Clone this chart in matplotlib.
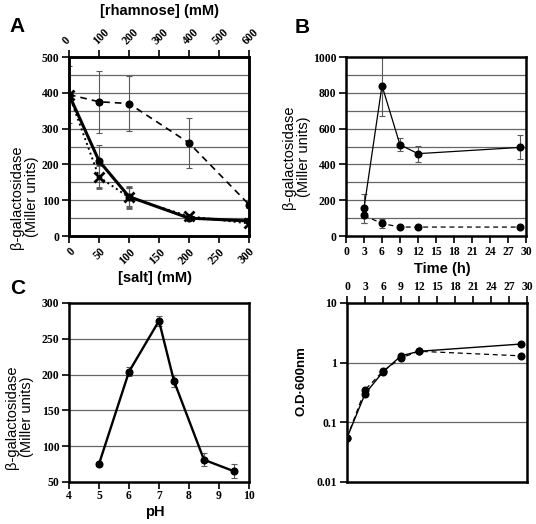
import numpy as np
import matplotlib
matplotlib.use('Agg')
import matplotlib.pyplot as plt

# panel A: salt series (bottom axis) and rhamnose series (top axis)
salt = [0, 50, 100, 200, 300]
salt_solid = [395, 210, 110, 50, 42]
salt_solid_err = [0, 45, 25, 5, 5]
salt_dotted = [395, 165, 108, 55, 35]
salt_dotted_err = [0, 32, 30, 5, 5]
rham = [0, 100, 200, 400, 600]
rham_vals = [395, 375, 370, 260, 88]
rham_err = [80, 87, 77, 69, 10]

# panel B: beta-galactosidase over time
time_b = [3, 6, 9, 12, 29]
b_solid = [155, 840, 510, 460, 495]
b_solid_err = [80, 170, 35, 45, 67]
b_dashed = [115, 70, 50, 50, 50]
b_dashed_err = [40, 25, 5, 5, 5]

# panel C: pH profile
ph = [5, 6, 7, 7.5, 8.5, 9.5]
ph_vals = [75, 204, 275, 191, 81, 65]
ph_err = [2, 6, 7, 8, 9, 10]

# panel D: growth (OD600)
time_d = [0, 3, 6, 9, 12, 29]
od_solid = [0.055, 0.30, 0.70, 1.30, 1.55, 2.05]
od_dashed = [0.055, 0.35, 0.72, 1.20, 1.55, 1.30]

tickfont = {'family': 'Liberation Serif', 'weight': 'bold', 'size': 8.4}
labfont = {'family': 'Liberation Sans', 'size': 10.5}
labbold = {'family': 'Liberation Sans', 'weight': 'bold', 'size': 10.5}

fig = plt.figure(figsize=(5.36, 5.24), dpi=100)


def style(ax, grid_vals):
    for s in ax.spines.values():
        s.set_linewidth(1.8)
    for g in grid_vals:
        ax.axhline(g, color='0.4', lw=0.9, zorder=0)
    ax.tick_params(direction='out', width=1.2, length=5, pad=2)
    for lab in ax.get_xticklabels() + ax.get_yticklabels():
        lab.set_fontproperties(tickfont)


ebkw = dict(ecolor='0.35', elinewidth=0.8, capsize=2.5, capthick=0.8)
ms = 4.8

# ---- A ----
axA = fig.add_axes([0.1287, 0.5496, 0.3358, 0.3416])
axA.set_xlim(0, 300)
axA.set_ylim(0, 500)
axA.set_xticks(range(0, 301, 50))
axA.set_yticks(range(0, 501, 100))
axA.errorbar(salt, salt_solid, yerr=salt_solid_err, color='k', lw=2.2,
             marker='o', ms=ms, **ebkw)
axA.errorbar(salt, salt_dotted, yerr=salt_dotted_err, color='k', lw=1.4,
             ls=':', marker='x', ms=7, mew=2, **ebkw)
style(axA, range(50, 500, 50))
for lab in axA.get_xticklabels():
    lab.set_rotation(45)
    lab.set_ha('right')
    lab.set_va('top')
    lab.set_rotation_mode('anchor')
axA2 = axA.twiny()
axA2.set_xlim(0, 600)
axA2.set_xticks(range(0, 601, 100))
axA2.errorbar(rham, rham_vals, yerr=rham_err, color='k', lw=1.2,
              ls=(0, (4, 3)), marker='o', ms=ms, **ebkw)
axA2.tick_params(direction='out', width=1.2, length=5, pad=2)
for lab in axA2.get_xticklabels():
    lab.set_fontproperties(tickfont)
    lab.set_rotation(45)
    lab.set_ha('left')
    lab.set_va('bottom')
    lab.set_rotation_mode('anchor')
for s in axA2.spines.values():
    s.set_linewidth(1.8)

# ---- B ----
axB = fig.add_axes([0.6455, 0.5496, 0.3358, 0.3416])
axB.set_xlim(0, 30)
axB.set_ylim(0, 1000)
axB.set_xticks(range(0, 31, 3))
axB.set_yticks(range(0, 1001, 200))
axB.errorbar(time_b, b_solid, yerr=b_solid_err, color='k', lw=0.9,
             marker='o', ms=ms, **ebkw)
axB.errorbar(time_b, b_dashed, yerr=b_dashed_err, color='k', lw=0.9,
             ls=(0, (4, 3)), marker='o', ms=ms, **ebkw)
style(axB, range(100, 1000, 100))

# ---- C ----
axC = fig.add_axes([0.1287, 0.0802, 0.3358, 0.3416])
axC.set_xlim(4, 10)
axC.set_ylim(50, 300)
axC.set_xticks(range(4, 11))
axC.set_yticks(range(50, 301, 50))
axC.errorbar(ph, ph_vals, yerr=ph_err, color='k', lw=1.7,
             marker='o', ms=ms, **ebkw)
style(axC, range(100, 300, 50))
axC.tick_params(axis='x', pad=1)

# ---- D ----
axD = fig.add_axes([0.6474, 0.0802, 0.3358, 0.3416])
axD.set_yscale('log')
axD.set_xlim(0, 30)
axD.set_ylim(0.01, 10)
axD.set_xticks(range(0, 31, 3))
axD.set_yticks([0.01, 0.1, 1, 10])
axD.set_yticklabels(['0.01', '0.1', '1', '10'])
axD.minorticks_off()
axD.xaxis.tick_top()
axD.plot(time_d, od_solid, color='k', lw=1.0, marker='o', ms=ms)
axD.plot(time_d, od_dashed, color='k', lw=0.9, ls=(0, (4, 3)), marker='o', ms=ms)
style(axD, [0.1, 1])

# labels
fig.text(0.297, 0.979, '[rhamnose] (mM)', ha='center', va='center', **labbold)
fig.text(0.289, 0.469, '[salt] (mM)', ha='center', va='center', **labbold)
fig.text(0.826, 0.486, 'Time (h)', ha='center', va='center', **labbold)
fig.text(0.289, 0.022, 'pH', ha='center', va='center', **labbold)
ylab = 'β-galactosidase\n(Miller units)'
fig.text(0.046, 0.624, ylab, ha='center', va='center', rotation=90,
         linespacing=1.05, **labfont)
fig.text(0.553, 0.70, ylab, ha='center', va='center', rotation=90,
         linespacing=1.05, **labfont)
fig.text(0.036, 0.204, ylab, ha='center', va='center', rotation=90,
         linespacing=1.05, **labfont)
fig.text(0.5616, 0.273, 'O.D·600nm', ha='center', va='center', rotation=90,
         family='Liberation Sans', weight='bold', size=9.5)
for x, y, t in [(0.0326, 0.950, 'A'), (0.563, 0.948, 'B'), (0.0326, 0.4485, 'C')]:
    fig.text(x, y, t, ha='center', va='center', family='Liberation Sans',
             weight='bold', size=15)

fig.savefig('out.png', dpi=100)
